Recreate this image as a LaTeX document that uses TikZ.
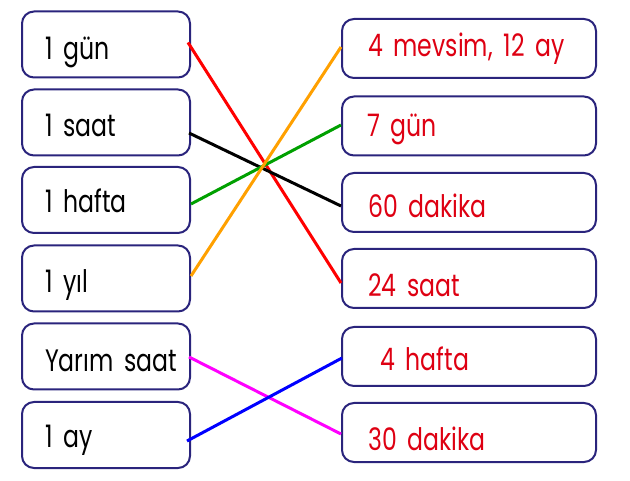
\documentclass[tikz,border=0pt]{standalone}
\usepackage{fontspec}
\setmainfont{Poppins}[FakeStretch=0.76, WordSpace=1.7]
\usetikzlibrary{calc}
\definecolor{boxline}{RGB}{42,36,124}
\definecolor{ansred}{RGB}{222,0,18}
\definecolor{lred}{RGB}{255,0,0}
\definecolor{lblack}{RGB}{0,0,0}
\definecolor{lgreen}{RGB}{0,160,0}
\definecolor{lorange}{RGB}{255,160,0}
\definecolor{lmagenta}{RGB}{255,0,255}
\definecolor{lblue}{RGB}{0,0,255}
\tikzset{
  lbox/.style={draw=boxline, line width=2pt, rounded corners=12pt, minimum width=168pt, minimum height=66pt, inner sep=0pt},
  rbox/.style={draw=boxline, line width=2pt, rounded corners=12pt, minimum width=254pt, minimum height=59pt, inner sep=0pt},
  ltxt/.style={anchor=base west, font=\fontsize{31}{34}\selectfont, text=black, inner sep=0pt},
  rtxt/.style={anchor=base west, font=\fontsize{31}{34}\selectfont, text=ansred, inner sep=0pt},
  link/.style={line width=3pt}
}
\begin{document}
\begin{tikzpicture}[x=1pt,y=-1pt]
\useasboundingbox (0,0) rectangle (630,481);
% left boxes
\node[lbox] (l1) at (106,44.5) {};
\node[lbox] (l2) at (106,122.5) {};
\node[lbox] (l3) at (106,200) {};
\node[lbox] (l4) at (106,278.5) {};
\node[lbox] (l5) at (106,356.5) {};
\node[lbox] (l6) at (106,435) {};
% right boxes
\node[rbox] (r1) at (469,48.5) {};
\node[rbox] (r2) at (469,126) {};
\node[rbox] (r3) at (469,202.5) {};
\node[rbox] (r4) at (469,278.5) {};
\node[rbox] (r5) at (469,356.5) {};
\node[rbox] (r6) at (469,432.5) {};
% left texts
\node[ltxt] (t1) at (45,60) {1 gün};
\node[ltxt] (t2) at (45,137) {1 saat};
\node[ltxt] (t3) at (45,213) {1 hafta};
\node[ltxt] (t4) at (45,293) {1 yıl};
\node[ltxt] (t5) at (45,372) {Yarım saat};
\node[ltxt] (t6) at (45,447) {1 ay};
% right texts
\node[rtxt] (s1) at (368,57) {4 mevsim, 12 ay};
\node[rtxt] (s2) at (367,137) {7 gün};
\node[rtxt] (s3) at (368,218) {60 dakika};
\node[rtxt] (s4) at (368,297) {24 saat};
\node[rtxt] (s5) at (380,371) {4 hafta};
\node[rtxt] (s6) at (368,450) {30 dakika};
% connectors
\draw[link, lred] ($(l1.east)+(-3,-2)$) -- ($(r4.west)+(0,4.5)$);
\draw[link, lblack] ($(l2.east)+(-2,10.5)$) -- ($(r3.west)+(0,3.5)$);
\draw[link, lgreen] ($(l3.east)+(0,4)$) -- ($(r2.west)+(0,-1)$);
\draw[link, lorange] ($(l4.east)+(0,-2.5)$) -- ($(r1.west)+(0,-1.5)$);
\draw[link, lmagenta] ($(l5.east)+(-2,0.5)$) -- ($(r6.west)+(0,1.5)$);
\draw[link, lblue] ($(l6.east)+(-4,6)$) -- ($(r5.west)+(1,1.5)$);
\end{tikzpicture}
\end{document}
